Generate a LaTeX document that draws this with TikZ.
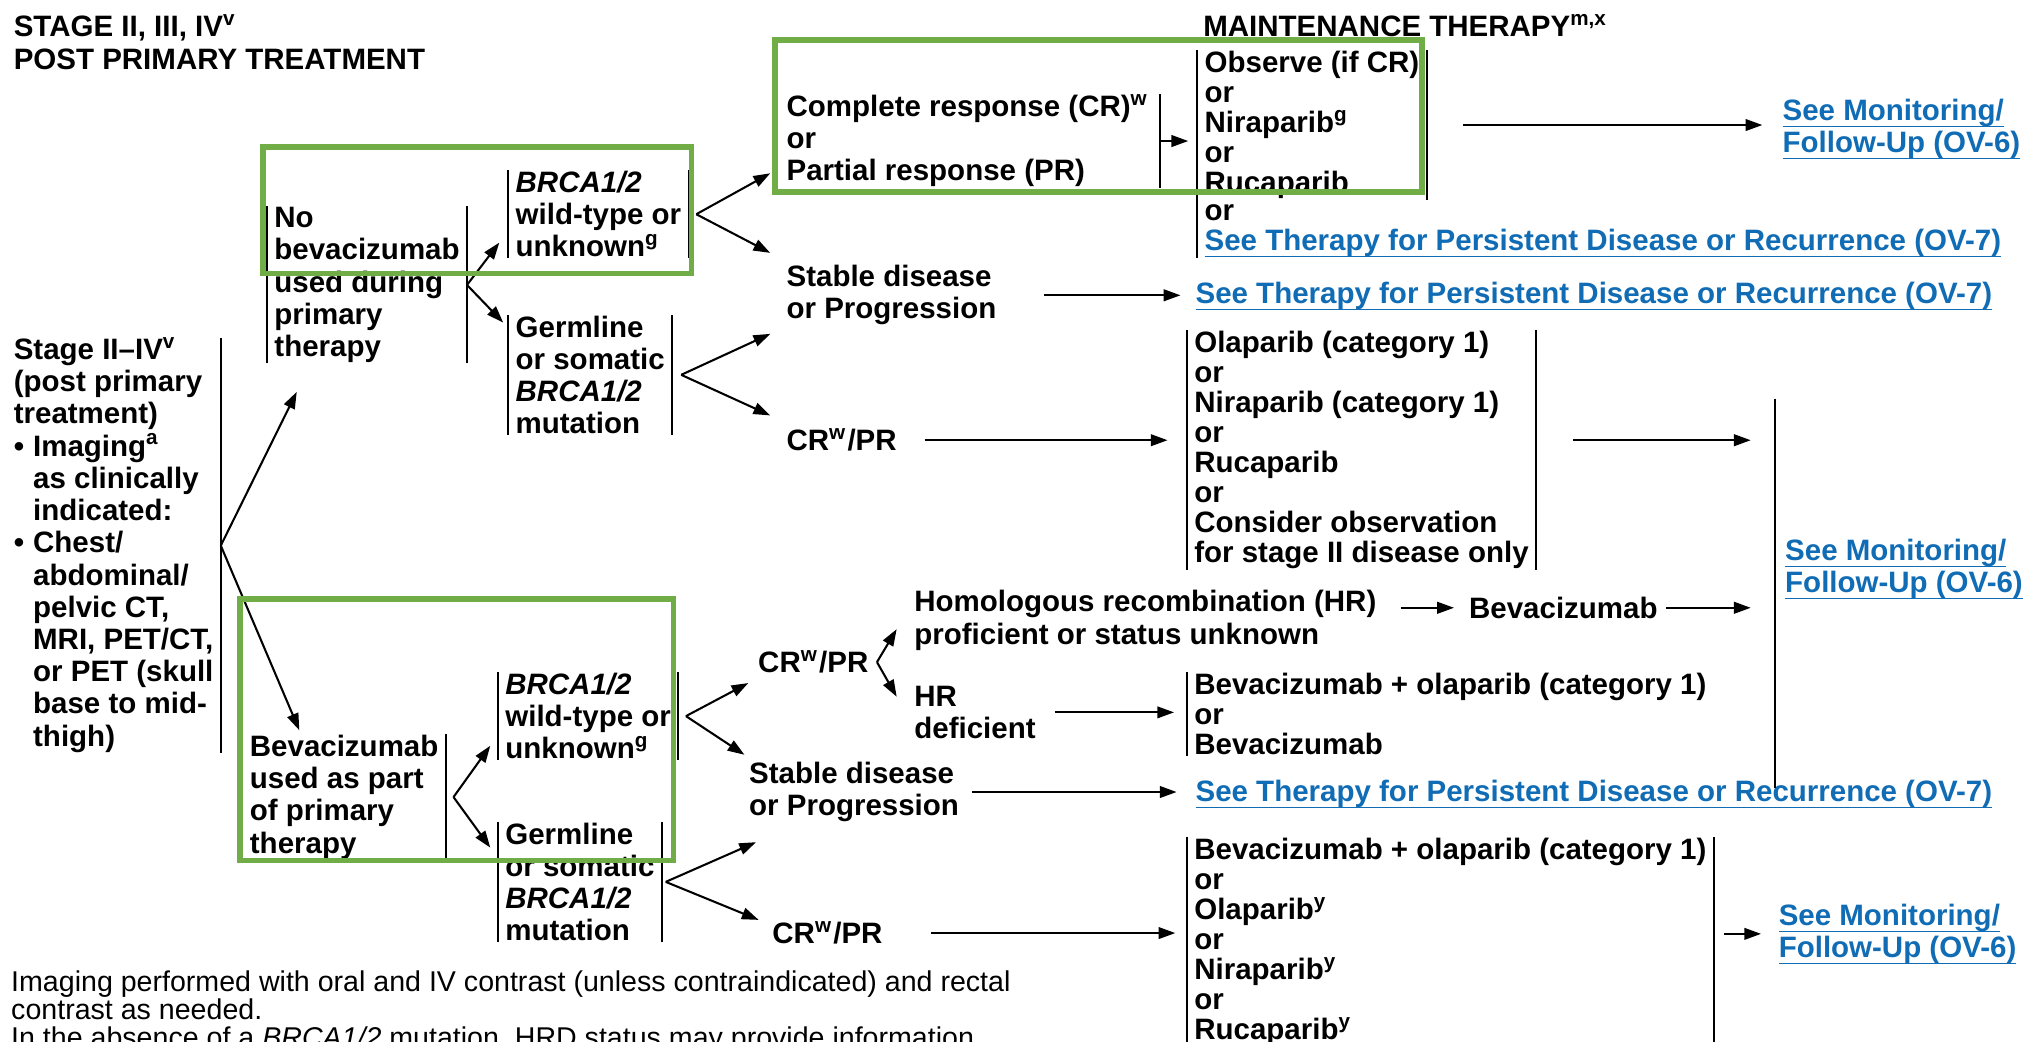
\documentclass[tikz,border=0pt]{standalone}
\usepackage{fontspec}
\setmainfont{Liberation Sans}
\usepackage{xcolor}
\usetikzlibrary{arrows.meta, calc}
\definecolor{linkblue}{RGB}{16,108,180}
\definecolor{boxgreen}{RGB}{112,173,71}
\newcommand{\sps}[1]{\textsuperscript{\smash{#1}}}
\newcommand{\lnk}[1]{\textcolor{linkblue}{\sbox0{#1}\rlap{\raisebox{-0.23em}[0pt][0pt]{\rule{\wd0}{0.05em}}}\usebox0}}

\begin{document}
\begin{tikzpicture}[x=0.01cm, y=-0.01cm,
    txt/.style={anchor=north west, inner sep=0pt, align=left, font={\fontsize{6.5}{7.1}\selectfont\bfseries\lineskiplimit=-100pt}},
    lst/.style={txt, font={\fontsize{6.5}{6.62}\selectfont\bfseries\lineskiplimit=-100pt}},
    bx/.style={inner xsep=0.05cm},
    bar/.style={line width=0.014cm},
    arr/.style={line width=0.016cm, -{Triangle[length=0.13cm, width=0.09cm]}},
    grn/.style={draw=boxgreen, line width=0.045cm}]
    \useasboundingbox (0,0) rectangle (1568,807);
    \clip (0,0) rectangle (1568,807);

    % 标题
    \node[txt] (title) at (10,12) {STAGE II, III, IV\sps{v}\\POST PRIMARY TREATMENT};
    \node[txt] (maint) at (932,12) {MAINTENANCE THERAPY\sps{m,x}};

    % 左边一列
    \node[txt, bx] (stage) at (5,262) {Stage II--IV\sps{v}\\(post primary\\treatment)\\\makebox[0.15cm][l]{\textbullet}Imaging\sps{a}\\\hspace*{0.15cm}as clinically\\\hspace*{0.15cm}indicated:\\\makebox[0.15cm][l]{\textbullet}Chest/\\\hspace*{0.15cm}abdominal/\\\hspace*{0.15cm}pelvic CT,\\\hspace*{0.15cm}MRI, PET/CT,\\\hspace*{0.15cm}or PET (skull\\\hspace*{0.15cm}base to mid-\\\hspace*{0.15cm}thigh)};

    % 上半部分
    \node[txt, bx] (nobev) at (207,160) {No\\bevacizumab\\used during\\primary\\therapy};
    \node[txt, bx] (bwt1) at (394,132) {\textit{BRCA1/2}\\wild-type or\\unknown\sps{g}};
    \node[txt, bx] (gm1) at (394,244) {Germline\\or somatic\\\textit{BRCA1/2}\\mutation};
    \node[txt, inner xsep=0.08cm] (cpr) at (601,73) {Complete response (CR)\sps{w}\\or\\Partial response (PR)};
    \node[lst, bx] (tx1) at (928,39) {Observe (if CR)\\or\\Niraparib\sps{g}\\or\\Rucaparib};
    \node[lst, bx] (lk1) at (928,158) {or\\\lnk{See Therapy for Persistent Disease or Recurrence (OV-7)}};
    \node[txt] (fu1) at (1381,76) {\lnk{See Monitoring/}\\\lnk{Follow-Up (OV-6)}};
    \node[txt] (sd1) at (609,205) {Stable disease\\or Progression};
    \node[txt] (ov7a) at (926,218) {\lnk{See Therapy for Persistent Disease or Recurrence (OV-7)}};
    \node[txt] (crpr1) at (609,332) {CR\sps{w}/PR};
    \node[lst, bx] (tx2) at (920,256) {Olaparib (category 1)\\or\\Niraparib (category 1)\\or\\Rucaparib\\or\\Consider observation\\for stage II disease only};
    \node[txt] (fu2) at (1383,417) {\lnk{See Monitoring/}\\\lnk{Follow-Up (OV-6)}};
    \coordinate (fb1) at (1376,309);
    \coordinate (fb2) at (1376,611);

    % 下半部分
    \node[txt, bx] (bevused) at (188,569) {Bevacizumab\\used as part\\of primary\\therapy};
    \node[txt, bx] (bwt2) at (386,521) {\textit{BRCA1/2}\\wild-type or\\unknown\sps{g}};
    \node[txt, bx] (gm2) at (386,637) {Germline\\or somatic\\\textit{BRCA1/2}\\mutation};
    \node[txt] (crpr2) at (587,504) {CR\sps{w}/PR};
    \node[txt] (hrp) at (708,457) {Homologous recombination (HR)\\proficient or status unknown};
    \node[txt] (bev) at (1138,462) {Bevacizumab};
    \node[txt] (hrd) at (708,531) {HR\\deficient};
    \node[lst, bx] (tx3) at (920,521) {Bevacizumab + olaparib (category 1)\\or\\Bevacizumab};
    \node[txt] (sd2) at (580,590) {Stable disease\\or Progression};
    \node[txt] (ov7b) at (926,604) {\lnk{See Therapy for Persistent Disease or Recurrence (OV-7)}};
    \node[txt] (crpr3) at (598,714) {CR\sps{w}/PR};
    \node[lst, bx] (tx4) at (920,649) {Bevacizumab + olaparib (category 1)\\or\\Olaparib\sps{y}\\or\\Niraparib\sps{y}\\or\\Rucaparib\sps{y}};
    \node[txt] (fu3) at (1378,700) {\lnk{See Monitoring/}\\\lnk{Follow-Up (OV-6)}};

    % 脚注
    \node[txt, font={\fontsize{6.3}{6.1}\selectfont\lineskiplimit=-100pt}] (note) at (8,752) {Imaging performed with oral and IV contrast (unless contraindicated) and rectal\\contrast as needed.\\In the absence of a \textit{BRCA1/2} mutation, HRD status may provide information};

    % 竖线
    \draw[bar] (stage.north east) -- (stage.south east);
    \draw[bar] (nobev.north west) -- (nobev.south west);
    \draw[bar] (nobev.north east) -- (nobev.south east);
    \draw[bar] (bwt1.north west) -- (bwt1.south west);
    \draw[bar] (bwt1.north east) -- (bwt1.south east);
    \draw[bar] (gm1.north west) -- (gm1.south west);
    \draw[bar] (gm1.north east) -- (gm1.south east);
    \draw[bar] (cpr.north east) -- (cpr.south east);
    \draw[bar] (tx1.north west) -- (lk1.south west);
    \draw[bar] (tx1.north east) -- (tx1.south east);
    \draw[bar] (tx2.north west) -- (tx2.south west);
    \draw[bar] (tx2.north east) -- (tx2.south east);
    \draw[bar] (fb1) -- (fb2);
    \draw[bar] (bevused.north east) -- (bevused.south east);
    \draw[bar] (bwt2.north west) -- (bwt2.south west);
    \draw[bar] (bwt2.north east) -- (bwt2.south east);
    \draw[bar] (gm2.north west) -- (gm2.south west);
    \draw[bar] (gm2.north east) -- (gm2.south east);
    \draw[bar] (tx3.north west) -- (tx3.south west);
    \draw[bar] (tx4.north west) -- (tx4.south west);
    \draw[bar] (tx4.north east) -- (tx4.south east);

    % 箭头
    \draw[arr] (stage.east) -- ($(nobev.south west)+(23,22)$);
    \draw[arr] (stage.east) -- ($(bevused.north west)+(44,-3)$);
    \draw[arr] (nobev.east) -- ($(bwt1.west)+(-7,22)$);
    \draw[arr] (nobev.east) -- ($(gm1.north west)+(-4,6)$);
    \draw[arr] ($(bwt1.east)+(6,0)$) -- ($(cpr.west)+(-4,25)$);
    \draw[arr] ($(bwt1.east)+(6,0)$) -- ($(sd1.north west)+(-12,-9)$);
    \draw[arr] ($(gm1.east)+(7,0)$) -- ($(sd1.south west)+(-12,6)$);
    \draw[arr] ($(gm1.east)+(7,0)$) -- ($(crpr1.north west)+(-12,-10)$);
    \draw[arr, shorten >=0.07cm] (cpr.east) -- (cpr.east -| tx1.west);
    \draw[arr, shorten <=0.28cm, shorten >=0.15cm] (tx1.east) -- (tx1.east -| fu1.west);
    \draw[arr, shorten <=0.36cm, shorten >=0.11cm] (sd1.east) -- (sd1.east -| ov7a.west);
    \draw[arr, shorten <=0.21cm, shorten >=0.15cm] (crpr1.east) -- (crpr1.east -| tx2.west);
    \draw[arr, shorten <=0.29cm, shorten >=0.19cm] (crpr1.east -| tx2.east) -- (crpr1.east -| fb1);

    \draw[arr] ($(bevused.east)+(6,0)$) -- ($(bwt2.west)+(-6,23)$);
    \draw[arr] ($(bevused.east)+(6,0)$) -- ($(gm2.north west)+(-6,20)$);
    \draw[arr] ($(bwt2.east)+(6,0)$) -- ($(crpr2.south west)+(-7,7)$);
    \draw[arr] ($(bwt2.east)+(6,0)$) -- ($(sd2.north west)+(-3,-5)$);
    \draw[arr] ($(gm2.east)+(3,0)$) -- ($(sd2.south west)+(6,15)$);
    \draw[arr] ($(gm2.east)+(3,0)$) -- ($(crpr3.north west)+(-10,-1)$);
    \draw[arr] ($(crpr2.east)+(6,0)$) -- ($(hrp.south west)+(-13,-17)$);
    \draw[arr] ($(crpr2.east)+(6,0)$) -- ($(hrd.north west)+(-13,9)$);
    \draw[arr, shorten <=0.18cm, shorten >=0.11cm] (bev.west -| hrp.east) -- (bev.west);
    \draw[arr, shorten <=0.06cm, shorten >=0.19cm] (bev.east) -- (bev.east -| fb1);
    \draw[arr, shorten <=0.14cm, shorten >=0.1cm] (hrd.east) -- (hrd.east -| tx3.west);
    \draw[arr, shorten <=0.09cm, shorten >=0.14cm] (sd2.east) -- (sd2.east -| ov7b.west);
    \draw[arr, shorten <=0.37cm, shorten >=0.09cm] (crpr3.east) -- (crpr3.east -| tx4.west);
    \draw[arr, shorten <=0.08cm, shorten >=0.13cm] (tx4.east |- fu3.west) -- (fu3.west);

    % 绿色方框
    \draw[grn] (601,31) rectangle (1102,149);
    \draw[grn] (204,114) rectangle (536,212);
    \draw[grn] (186,464) rectangle (522,667);
\end{tikzpicture}
\end{document}
